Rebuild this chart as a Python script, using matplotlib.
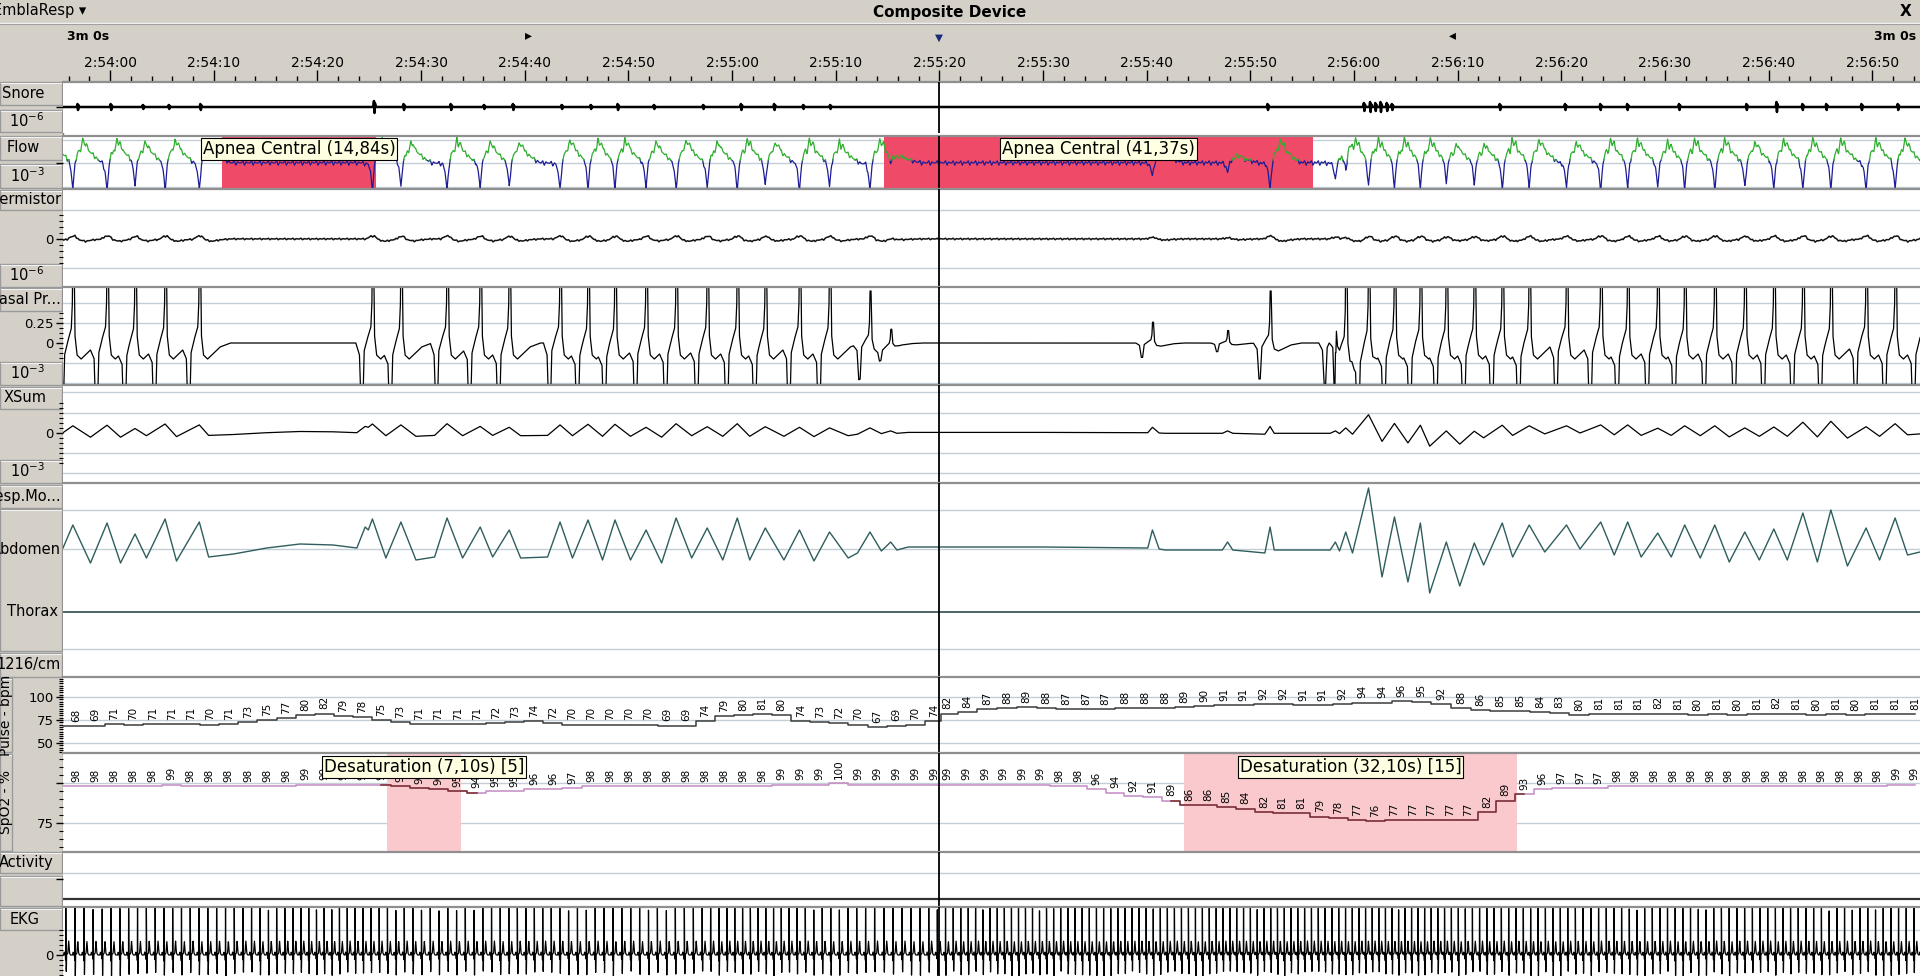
import numpy as np
import matplotlib
matplotlib.use('Agg')
from matplotlib import pyplot as plt
from matplotlib.patches import Rectangle

plt.rcParams['font.family'] = ['DejaVu Sans']

W, H = 1920, 976            # output size, px
LEFT = 63                   # first px of the trace area
T0, T1 = 55.45, 234.6       # visible window, seconds after 2:53:00
CURSOR = 140.0              # 2:55:20
MARK_FWD, MARK_BACK = 100.4, 189.5

GRAY = '#d4d0c8'
GRID = '#c3ced6'
RED = '#ef4a68'
PINK = '#f9c9cd'
TIP = '#ffffe1'
GREEN = '#2fae2f'
BLUE = '#1c1c96'

# scored events
apnea_start = [70.8, 134.7]
apnea_dur = [14.84, 41.37]
apnea_text = ['Apnea Central (14,84s)', 'Apnea Central (41,37s)']
desat_start = [86.75, 163.6]
desat_dur = [7.10, 32.10]
desat_text = ['Desaturation (7,10s) [5]', 'Desaturation (32,10s) [15]']

# pulse (bpm) and SpO2 (%) samples as printed along the traces
pulse_first = [69, 68, 69, 71, 70, 71, 71, 71, 70, 71, 73, 75, 77, 80, 82, 79, 78, 75, 73, 71, 71, 71, 71, 72,
               73, 74, 72, 70, 70, 70, 70, 70, 69, 69, 74, 79, 80, 81, 80, 74, 73, 72, 70, 67, 69, 70, 74]
pulse_second = [82, 84, 87, 88, 89, 88, 87, 87, 87, 88, 88, 88, 89, 90, 91, 91, 92, 92, 91, 91, 92, 94, 94, 96,
                95, 92, 88, 86, 85, 85, 84, 83, 80, 81, 81, 81, 82, 81, 80, 81, 80, 81, 82, 81, 80, 81, 80, 81,
                81, 81]
spo2_first = [98, 98, 98, 98, 98, 98, 99, 98, 98, 98, 98, 98, 98, 99, 99,
              99, 99, 99, 98, 97, 96, 95, 94, 95, 95, 96, 96, 97,
              98, 98, 98, 98, 98, 98, 98, 98, 98, 98,
              99, 99, 99, 100, 99, 99, 99, 99, 99]
spo2_second = [99, 99, 99, 99, 99, 99, 98, 98, 96, 94, 92, 91, 89, 86, 86, 85, 84, 82, 81, 81, 79, 78, 77, 76,
               77, 77, 77, 77, 77, 82, 89, 93, 96, 97, 97, 97, 98, 98, 98, 98, 98, 98, 98, 98, 98, 98, 98, 98,
               98, 98, 98, 99, 99]

# abdomen belt, peaks and troughs
abd_t = [55.45, 56.4, 58.1, 59.7, 61.0, 62.4, 63.5, 65.3, 66.4, 68.6, 69.5, 71.9, 75.1, 78.3, 81.5, 83.8,
         84.6, 84.9, 85.3, 86.6, 88.05, 89.5, 91.3, 92.5, 94.0, 95.7, 96.9, 98.5, 99.6, 102.2, 103.4, 104.6,
         106.1, 107.5, 108.7, 110.2, 111.7, 113.2, 114.6, 116.1, 117.6, 119.1, 120.5, 121.7, 123.2, 125.0,
         126.5, 127.9, 129.4, 131.2, 132.1, 133.3, 134.4, 135.3, 135.9, 137.0,
         150.0, 160.1, 160.55, 161.2, 161.8, 167.3, 167.8, 168.3, 171.4, 171.9, 172.3, 177.7,
         178.2, 178.6, 179.2, 179.85, 181.4, 182.7, 183.9, 185.2, 186.4, 187.3, 188.9, 190.2, 191.6, 192.5,
         194.3, 195.3, 196.9, 198.4, 200.5, 201.8, 203.8, 205.1, 206.4, 207.7, 209.3, 210.6, 211.9, 213.4,
         214.8, 216.2, 217.7, 219.1, 220.5, 221.8, 223.3, 224.7, 226.0, 227.6, 229.4, 230.7, 232.2, 233.4, 234.6]
abd_v = [0.1, 2.4, -1.4, 2.6, -1.4, 1.5, -0.9, 3.0, -1.2, 2.7, -0.8, -0.5, 0.1, 0.5, 0.4, 0.1,
         2.2, 1.9, 3.0, -0.9, 2.7, -1.1, -0.8, 3.1, -0.9, 2.2, -0.8, 1.9, -0.9, -0.8, 2.7, -0.9,
         2.9, -1.1, 2.9, -1.1, 1.9, -1.4, 3.1, -0.9, 2.1, -1.1, 3.1, -1.1, 2.1, -1.1,
         1.9, -1.2, 1.7, -0.9, -0.4, 1.7, -0.2, 0.7, -0.1, 0.2,
         0.2, 0.1, 1.9, 0.0, -0.1, -0.1, 0.7, -0.1, -0.4, 2.2, -0.1, -0.1,
         0.7, -0.2, 1.7, -0.4, 6.1, -2.8, 3.2, -3.3, 2.6, -4.4, 0.7, -3.7, 0.6, -1.6,
         2.6, -0.8, 2.4, -0.3, 2.4, 0.0, 2.7, -0.6, 2.7, -0.8, 1.6, -0.8, 2.4, -0.9,
         2.4, -1.3, 1.7, -1.1, 2.0, -1.1, 3.6, -1.3, 3.9, -1.7, 2.1, -1.1, 3.1, -0.6, -0.3]
thorax_level = -6.3
activity_level = 0.0

# breaths seen on the airflow channels, with relative size
breath_t = [53.6, 56.4, 59.7, 62.4, 65.3, 68.6,
            85.3, 88.05, 92.5, 95.7, 98.5, 103.4, 106.1, 108.7, 111.7, 114.6, 117.6, 120.5, 123.2, 126.5,
            129.4, 133.3, 135.3,
            160.55, 167.8, 171.9,
            178.2, 179.2, 181.4, 183.9, 186.4, 188.9, 191.6, 194.3, 196.9, 200.5, 203.8, 206.4, 209.3, 211.9,
            214.8, 217.7, 220.5, 223.3, 226.0, 229.4, 232.2, 235.0]
flow_amp = [1.0, 1.0, 1.0, 0.9, 1.0, 1.0,
            1.0, 0.9, 1.0, 0.9, 0.9, 1.0, 1.0, 1.0, 0.9, 1.0, 0.9, 1.0, 0.9, 1.0,
            0.9, 1.0, 0.3,
            0.5, 0.35, 1.0,
            0.6, 0.8, 1.0, 1.0, 1.0, 0.8, 0.8, 1.0, 1.0, 0.9, 1.0, 1.0, 0.9, 1.0,
            1.0, 0.9, 1.0, 1.0, 1.0, 1.0, 1.0, 1.0]
nasal_amp = [1.0, 1.0, 1.0, 1.0, 1.0, 1.0,
             1.0, 1.0, 1.0, 1.0, 1.0, 1.0, 1.0, 1.0, 1.0, 1.0, 1.0, 1.0, 1.0, 1.0,
             1.0, 0.5, 0.15,
             0.2, 0.12, 0.5,
             0.6, 1.0, 1.0, 1.0, 1.0, 1.0, 1.0, 1.0, 1.0, 1.0, 1.0, 1.0, 1.0, 1.0,
             1.0, 1.0, 1.0, 1.0, 1.0, 1.0, 1.0, 1.0]

snore_t = [56.9, 60.1, 63.2, 65.7, 68.75, 85.5, 88.35, 92.9, 96.1, 98.9, 103.6, 106.4, 109.0, 112.5, 117.25,
           120.9, 124.1, 126.9, 129.5, 171.7, 181.0, 181.6, 182.1, 182.6, 183.2, 183.7, 194.1, 200.4, 203.8,
           206.4, 211.4, 217.9, 220.8, 223.3, 225.6, 229.0, 232.5]
snore_amp = [0.3, 0.3, 0.2, 0.2, 0.3, 0.6, 0.3, 0.3, 0.2, 0.3, 0.2, 0.2, 0.3, 0.2, 0.2,
             0.3, 0.3, 0.2, 0.2, 0.3, 0.4, 0.5, 0.4, 0.5, 0.4, 0.3, 0.3, 0.3, 0.3,
             0.3, 0.3, 0.3, 0.5, 0.3, 0.3, 0.3, 0.3]

assert len(abd_t) == len(abd_v)
assert len(breath_t) == len(flow_amp) == len(nasal_amp)
assert len(snore_t) == len(snore_amp)

# shapes used to draw one event on each channel (offset s, level)
FLOW_K = ([-1.2, -0.4, -0.2, 0.0, 0.2, 0.4, 0.6, 0.75, 0.95, 1.1, 1.3, 1.5, 2.0, 2.5, 3.0],
          [0.0, -0.05, -0.35, -1.1, -0.1, 0.35, 0.5, 0.45, 0.98, 0.7, 0.8, 0.5, 0.3, 0.12, 0.0])
NASAL_K = ([-1.6, -1.25, -1.08, -0.95, -0.8, -0.5, -0.15, -0.05, 0.0, 0.1, 0.2, 0.4, 0.8, 1.2, 2.0, 3.0],
           [0.0, -0.15, -0.9, -0.9, -0.1, 0.05, 0.2, 0.5, 1.3, 1.3, 0.1, -0.15, -0.2, -0.15, -0.05, 0.0])
THERM_K = ([-0.6, -0.2, 0.2, 0.6, 1.2, 2.0, 3.0], [0.0, 0.8, 1.0, -0.3, -0.8, -0.3, 0.0])
CARD_K = ([-0.15, 0.0, 0.15, 0.3, 0.45], [0.0, 1.0, -1.0, 0.5, 0.0])
EKG_K = ([-0.22, -0.16, -0.1, -0.04, -0.015, 0.0, 0.02, 0.045, 0.07, 0.2, 0.28, 0.36, 0.45],
         [0.0, 0.15, 0.0, 0.0, -0.3, 3.0, 0.5, -1.05, 0.0, 0.1, 0.7, 0.1, 0.0])
SNORE_K = ([-0.12, -0.05, 0.0, 0.05, 0.12], [0.0, 1.0, -1.0, 0.6, 0.0])


def trace(t, times, amps, kernel):
    out = np.zeros_like(t)
    for tb, a in zip(times, amps):
        out += a * np.interp(t - tb, kernel[0], kernel[1], left=0.0, right=0.0)
    return out


def clock(s):
    return f"2:{53 + int(s) // 60}:{int(s) % 60:02d}"


pulse_t = np.concatenate([np.linspace(54.9, 139.5, len(pulse_first)), np.linspace(140.8, 234.1, len(pulse_second))])
pulse_v = np.array(pulse_first + pulse_second, dtype=float)
spo2_t = np.concatenate([np.linspace(54.9, 139.5, len(spo2_first)), np.linspace(140.8, 234.1, len(spo2_second))])
spo2_v = np.array(spo2_first + spo2_second, dtype=float)

# heart beats follow the recorded pulse rate
beat_t = []
tb = T0 - 0.6
while tb < T1 + 0.6:
    beat_t.append(tb)
    tb += 60.0 / np.interp(tb, pulse_t, pulse_v)
beat_amp = np.ones(len(beat_t))

tt = np.arange(T0 - 1.0, T1 + 1.0, 0.01)

fig = plt.figure(figsize=(W / 100, H / 100), dpi=100)
fig.patch.set_facecolor('white')

# window chrome in pixel coordinates
ui = fig.add_axes([0, 0, 1, 1])
ui.set_xlim(0, W)
ui.set_ylim(H, 0)
ui.axis('off')
ui.add_patch(Rectangle((0, 0), W, 82, fc=GRAY, ec='none'))
ui.add_patch(Rectangle((0, 82), LEFT, H - 82, fc=GRAY, ec='none'))
ui.plot([0, W], [22.5, 22.5], color='#f4f4f4', lw=1)
ui.plot([0, W], [23.5, 23.5], color='#a0a0a0', lw=0.8)
ui.text(-7, 11, 'EmblaResp \u25be', fontsize=10.5, ha='left', va='center')
ui.text(950, 12, 'Composite Device', fontsize=11, fontweight='bold', ha='center', va='center')
ui.text(1906, 12, 'X', fontsize=11, fontweight='bold', ha='center', va='center')
ui.text(67, 36, '3m 0s', fontsize=9, fontweight='bold', ha='left', va='center')
ui.text(1916, 36, '3m 0s', fontsize=9, fontweight='bold', ha='right', va='center')

boxes = [(0, 82, 62, 105), (0, 110, 62, 132), (0, 136, 62, 160), (0, 164, 62, 188), (0, 190, 62, 210),
         (0, 264, 62, 287), (0, 288, 62, 311), (0, 362, 62, 385), (0, 387, 62, 409), (0, 460, 62, 483),
         (0, 485, 62, 508), (0, 509, 62, 651), (0, 653, 62, 677), (0, 678, 12, 752), (0, 754, 12, 851),
         (0, 852, 62, 873), (0, 876, 62, 906), (0, 908, 62, 930)]
box_patches = []
for x0, y0, x1, y1 in boxes:
    p = Rectangle((x0, y0), x1 - x0, y1 - y0, fc=GRAY, ec='#9a9a9a', lw=1)
    ui.add_patch(p)
    ui.plot([x0 + 1, x1 - 1], [y0 + 1, y0 + 1], color='#f2f2f2', lw=0.8)
    box_patches.append(p)
ui.plot([LEFT - 0.5, LEFT - 0.5], [82, H], color='#7a7a7a', lw=1)

col_text = [('Snore', 23, 93, 'center'), ('10$^{-6}$', 27, 121, 'center'), ('Flow', 23, 148, 'center'),
            ('10$^{-3}$', 27, 176, 'center'), ('Thermistor', 61, 200, 'right'), ('10$^{-6}$', 27, 275, 'center'),
            ('Nasal Pr...', 61, 300, 'right'), ('10$^{-3}$', 27, 373, 'center'), ('XSum', 25, 398, 'center'),
            ('10$^{-3}$', 27, 471, 'center'), ('Resp.Mo...', 61, 496, 'right'), ('Abdomen', 61, 550, 'right'),
            ('Thorax', 58, 611, 'right'), ('1216/cm', 61, 665, 'right'), ('Activity', 26, 862, 'center'),
            ('EKG', 25, 919, 'center')]
for s, x, y, ha in col_text:
    ui.text(x, y, s, fontsize=10.5, ha=ha, va='center')
for s, y, p in [('Pulse - bpm', 715, box_patches[13]), ('SpO2 - %', 802, box_patches[14])]:
    txt = ui.text(6, y, s, fontsize=10, rotation=90, ha='center', va='center')
    txt.set_clip_path(p)

# time ruler
hd = fig.add_axes([LEFT / W, 1 - 82 / H, 1 - LEFT / W, 59 / H])
hd.set_xlim(T0, T1)
hd.set_ylim(0, 1)
hd.patch.set_alpha(0)
for side in ('top', 'left', 'right'):
    hd.spines[side].set_visible(False)
hd.spines['bottom'].set_color('#404040')
major = np.arange(60, 231, 10)
hd.set_xticks(major)
hd.set_xticks(np.arange(56, 235, 2), minor=True)
hd.tick_params(axis='x', which='major', direction='in', length=9, width=1, labelbottom=False)
hd.tick_params(axis='x', which='minor', direction='in', length=4, width=1)
hd.set_yticks([])
for s in major:
    hd.text(s, 0.32, clock(s), fontsize=10, ha='center', va='center')
hd.text(MARK_FWD, 0.79, '\u25b8', fontsize=10, ha='center', va='center')
hd.text(MARK_BACK, 0.79, '\u25c2', fontsize=10, ha='center', va='center')
hd.text(CURSOR, 0.75, '\u25bc', fontsize=7.5, color='#1c2a7a', ha='center', va='center')


def panel(top, bottom, ref_px, ref_val, ppu, grid=()):
    ax = fig.add_axes([LEFT / W, 1 - bottom / H, 1 - LEFT / W, (bottom - top) / H])
    ax.set_xlim(T0, T1)
    ax.set_ylim(ref_val - (bottom - ref_px) / ppu, ref_val + (ref_px - top) / ppu)
    ax.set_facecolor('white')
    ax.set_xticks([])
    for side in ('bottom', 'left', 'right'):
        ax.spines[side].set_visible(False)
    ax.spines['top'].set_color('#8f8f8f')
    ax.spines['top'].set_linewidth(1.6)
    for g in grid:
        ax.axhline(g, color=GRID, lw=1, zorder=0.2)
    ax.axvline(CURSOR, color='black', lw=1.3, zorder=6)
    ax.tick_params(axis='y', which='major', length=5, width=1, labelsize=9.5, pad=1.5)
    ax.tick_params(axis='y', which='minor', length=3, width=0.8)
    return ax


def yticks(ax, major, labels=None, minor=()):
    ax.set_yticks(major)
    ax.set_yticklabels(labels if labels is not None else [''] * len(major))
    ax.set_yticks(list(minor), minor=True)


def tooltip(ax, x, y, text):
    ax.text(x, y, text, fontsize=12, ha='center', va='center', zorder=8,
            bbox=dict(boxstyle='square,pad=0.12', fc=TIP, ec='black', lw=0.8))


# Snore
ax = panel(82, 133, 107, 0, 10)
yticks(ax, [0])
ax.plot(tt, trace(tt, snore_t, snore_amp, SNORE_K), color='black', lw=1.8)

# Flow
ax = panel(136, 189, 163, 0, 25, grid=[0.92, 0, -0.96])
yticks(ax, [0])
for s, d in zip(apnea_start, apnea_dur):
    ax.axvspan(s, s + d, color=RED, lw=0, zorder=0.3)
flow = trace(tt, breath_t, flow_amp, FLOW_K) + 0.09 * trace(tt, beat_t, beat_amp, CARD_K)
up = flow > 0.12
up_d = up | np.roll(up, 1) | np.roll(up, -1)
dn_d = ~up | np.roll(~up, 1) | np.roll(~up, -1)
ax.plot(tt, np.where(dn_d, flow, np.nan), color=BLUE, lw=0.9, zorder=2)
ax.plot(tt, np.where(up_d, flow, np.nan), color=GREEN, lw=0.9, zorder=2)
for s, d, txt in zip(apnea_start, apnea_dur, apnea_text):
    tooltip(ax, s + d / 2, 0.56, txt)

# Thermistor
ax = panel(189, 287, 239, 0, 20, grid=[1.45, -1.45])
yticks(ax, [0], ['0'], [k * 0.3 for k in range(-4, 5) if k])
therm = 0.15 * trace(tt, breath_t, flow_amp, THERM_K) + 0.04 * trace(tt, beat_t, beat_amp, CARD_K)
ax.plot(tt, therm, color='#111111', lw=1.1)

# Nasal pressure
ax = panel(287, 385, 343, 0, 80, grid=[0.5, 0.25, -0.25, -0.5])
yticks(ax, [0.25, 0], ['0.25', '0'], [k * 0.0625 for k in range(-3, 7) if k not in (0, 4)])
ax.plot(tt, trace(tt, breath_t, nasal_amp, NASAL_K), color='black', lw=0.9)

# XSum (thorax channel is flat, so it follows the abdomen belt)
ax = panel(385, 483, 433, 0, 10, grid=[4.1, 2.0, -2.0, -4.0])
yticks(ax, [0], ['0'], [k * 0.5 for k in range(-6, 7) if k])
ax.plot(abd_t, 0.3 * np.array(abd_v), color='black', lw=0.9)

# Respiratory effort: abdomen + thorax
ax = panel(483, 677, 549, 0, 10, grid=[3.9, 0, -10])
yticks(ax, [])
ax.plot(abd_t, abd_v, color='#2f5d5d', lw=1.0)
ax.plot(tt, np.full_like(tt, thorax_level), color='#1e3c3c', lw=1.1)

# Pulse
ax = panel(677, 753, 697, 100, 0.92, grid=[100, 75, 50])
yticks(ax, [100, 75, 50], ['100', '75', '50'], np.arange(40, 121, 2.5))
ax.plot(pulse_t, pulse_v, color='#3c3c3c', lw=1.1, drawstyle='steps-mid')
for t, v in zip(pulse_t, pulse_v):
    ax.annotate(f'{v:.0f}', (t, v), xytext=(0, 3), textcoords='offset points', rotation=90,
                ha='center', va='bottom', fontsize=7.5, annotation_clip=False, clip_on=True)

# SpO2
ax = panel(753, 852, 783, 100, 1.6, grid=[100, 75])
yticks(ax, [100, 75], ['', '75'], np.arange(60, 116, 5))
for s, d in zip(desat_start, desat_dur):
    ax.axvspan(s, s + d, color=PINK, lw=0, zorder=0.3)
ax.plot(spo2_t, spo2_v, color='#c48ac4', lw=1.1, drawstyle='steps-mid', zorder=2)
step = spo2_t[1] - spo2_t[0]
for s, d in zip(desat_start, desat_dur):
    inside = (spo2_t >= s - step) & (spo2_t <= s + d + step)
    ax.plot(spo2_t[inside], spo2_v[inside], color='#7b2d2d', lw=1.1, drawstyle='steps-mid', zorder=2.1)
for t, v in zip(spo2_t, spo2_v):
    ax.annotate(f'{v:.0f}', (t, v), xytext=(0, 3), textcoords='offset points', rotation=90,
                ha='center', va='bottom', fontsize=7.5, annotation_clip=False, clip_on=True, zorder=3)
for s, d, txt in zip(desat_start, desat_dur, desat_text):
    tooltip(ax, s + d / 2, 110, txt)

# Activity
ax = panel(852, 907, 899, 0, 10, grid=[2.6])
yticks(ax, [2.0])
ax.plot(tt, np.full_like(tt, activity_level), color='#333333', lw=1.6)

# EKG
ax = panel(907, 976, 955, 0, 20, grid=[1.25])
yticks(ax, [0], ['0'], [k * 0.25 for k in range(-4, 6) if k])
ax.plot(tt, trace(tt, beat_t, beat_amp, EKG_K), color='black', lw=0.9)

fig.savefig('out.png', dpi=100)
